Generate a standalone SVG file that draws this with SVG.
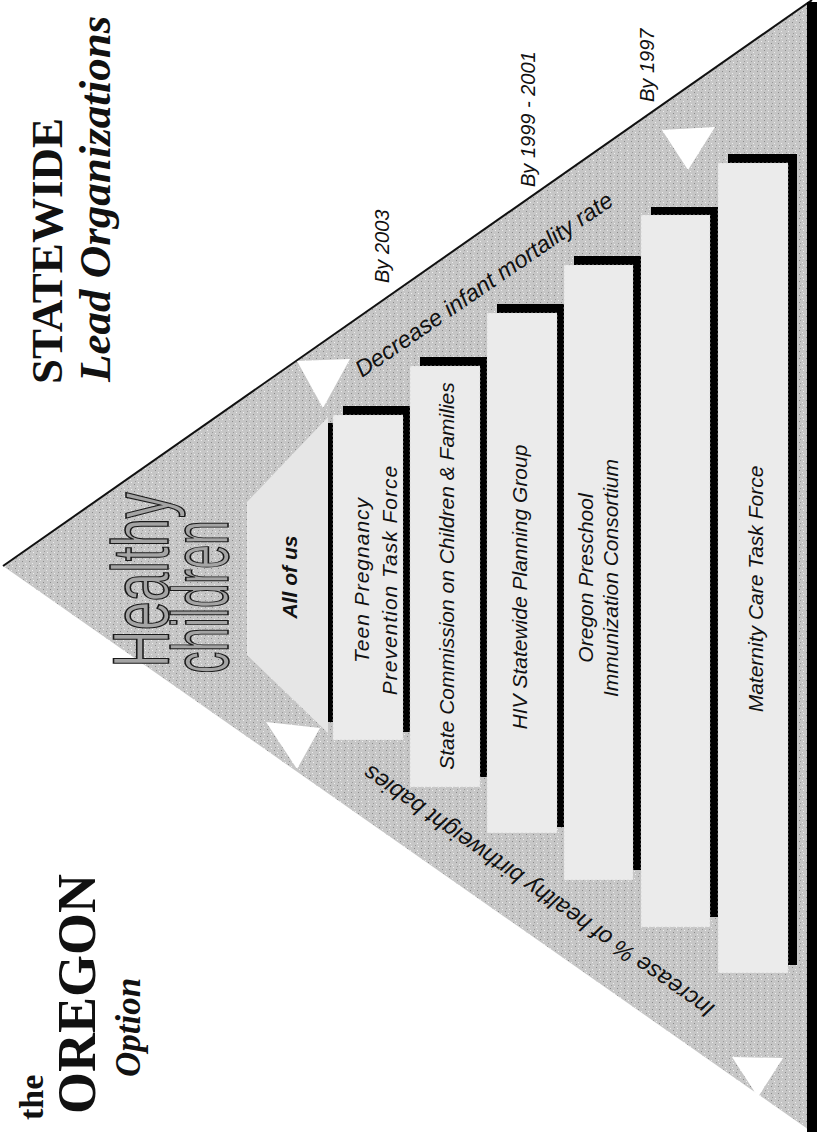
<svg xmlns="http://www.w3.org/2000/svg" width="822" height="1136" viewBox="0 0 822 1136">
<defs>
<pattern id="stip" width="7" height="7" patternUnits="userSpaceOnUse">
<rect width="7" height="7" fill="#c6c6c6"/>
<rect x="1" y="1" width="1" height="1" fill="#8a8a8a"/>
<rect x="4" y="3" width="1" height="1" fill="#ececec"/>
<rect x="2" y="5" width="1" height="1" fill="#9a9a9a"/>
<rect x="5" y="6" width="1" height="1" fill="#efefef"/>
</pattern>
<style>
.bar{fill:#ebebeb;stroke:#d2d2d2;stroke-width:0.6;stroke-dasharray:2 2}
.sh{fill:#000}
.lbl{font-family:"Liberation Sans",Arial,sans-serif;font-style:italic;font-size:21px;fill:#111}
.date{font-family:"Liberation Sans",Arial,sans-serif;font-style:italic;font-size:20px;fill:#111}
.side{font-family:"Liberation Sans",Arial,sans-serif;font-style:italic;font-size:23.5px;fill:#111}
.serif{font-family:"Liberation Serif","Times New Roman",serif;font-weight:bold;fill:#111}
.hc{font-family:"Liberation Sans",Arial,sans-serif;font-size:80px;fill:#a4a4a4;stroke:#1a1a1a;stroke-width:1.6}
.wt{fill:#fff}
</style>
</defs>
<rect width="822" height="1136" fill="#fff"/>

<g id="pyramid">
<polygon points="3,566 812,0 812,1132" fill="url(#stip)"/>
<line x1="3" y1="566" x2="812" y2="0" stroke="#111" stroke-width="2"/>
</g>

<g id="arrows">
<polygon class="wt" points="297,361 350,359 323,408"/>
<polygon class="wt" points="662,130 715,127 688,170"/>
<polygon class="wt" points="266,722 320,728 297,769"/>
<polygon class="wt" points="732,1057 783,1058 758,1097"/>
</g>

<g id="apex">
<text class="hc" transform="translate(168,580) rotate(-90)" text-anchor="middle" textLength="175" lengthAdjust="spacingAndGlyphs">Healthy</text>
<text class="hc" transform="translate(228,597) rotate(-90)" text-anchor="middle" textLength="153" lengthAdjust="spacingAndGlyphs">children</text>
</g>

<g id="tier-all-of-us">
<rect class="sh" x="328" y="423" width="6" height="299"/>
<polygon points="247,502 328,417 328,733 247,655" fill="#e6e6e6"/>
<text class="lbl" transform="translate(297,577) rotate(-90)" text-anchor="middle" font-weight="bold">All of us</text>
</g>

<g id="tier-teen">
<rect class="sh" x="343" y="406" width="69" height="326"/>
<rect class="bar" x="333" y="415" width="70" height="325"/>
<text class="lbl" transform="translate(369,580) rotate(-90)" text-anchor="middle" letter-spacing="1">Teen Pregnancy</text>
<text class="lbl" transform="translate(397,580) rotate(-90)" text-anchor="middle" letter-spacing="1">Prevention Task Force</text>
</g>

<g id="tier-state">
<rect class="sh" x="420" y="357" width="68" height="420"/>
<rect class="bar" x="410" y="366" width="70" height="421"/>
<text class="lbl" transform="translate(454,576) rotate(-90)" text-anchor="middle" font-size="21.5">State Commission on Children &amp; Families</text>
</g>

<g id="tier-hiv">
<rect class="sh" x="497" y="304" width="69" height="523"/>
<rect class="bar" x="487" y="313" width="70" height="520"/>
<text class="lbl" transform="translate(527,587) rotate(-90)" text-anchor="middle">HIV Statewide Planning Group</text>
</g>

<g id="tier-oregon">
<rect class="sh" x="574" y="256" width="67" height="614"/>
<rect class="bar" x="564" y="265" width="69" height="615"/>
<text class="lbl" transform="translate(593,578) rotate(-90)" text-anchor="middle">Oregon Preschool</text>
<text class="lbl" transform="translate(618,578) rotate(-90)" text-anchor="middle">Immunization Consortium</text>
</g>

<g id="tier-blank">
<rect class="sh" x="651" y="207" width="68" height="710"/>
<rect class="bar" x="641" y="215" width="69" height="712"/>
</g>

<g id="tier-maternity">
<rect class="sh" x="728" y="154" width="69" height="811"/>
<rect class="bar" x="718" y="163" width="70" height="810"/>
<text class="lbl" transform="translate(763,589) rotate(-90)" text-anchor="middle">Maternity Care Task Force</text>
</g>

<g id="base">
<rect class="sh" x="807" y="2" width="10" height="1130"/>
</g>

<g id="side-labels">
<text class="side" transform="translate(362,378) rotate(-34.5)">Decrease infant mortality rate</text>
<text class="side" transform="translate(716,1006) rotate(215)">Increase % of healthy birthweight babies</text>
</g>

<g id="dates">
<text class="date" transform="translate(389,283) rotate(-90)">By 2003</text>
<text class="date" transform="translate(535,187) rotate(-90)">By 1999 - 2001</text>
<text class="date" transform="translate(654,102) rotate(-90)">By 1997</text>
</g>

<g id="titles">
<text class="serif" transform="translate(62,384) rotate(-90)" font-size="45">STATEWIDE</text>
<text class="serif" transform="translate(110,382) rotate(-90)" font-size="45" font-style="italic">Lead Organizations</text>
<text class="serif" transform="translate(43,1120) rotate(-90)" font-size="34">the</text>
<text class="serif" transform="translate(95,1114) rotate(-90)" font-size="54">OREGON</text>
<text class="serif" transform="translate(140,1077) rotate(-90)" font-size="35" font-style="italic">Option</text>
</g>
</svg>
